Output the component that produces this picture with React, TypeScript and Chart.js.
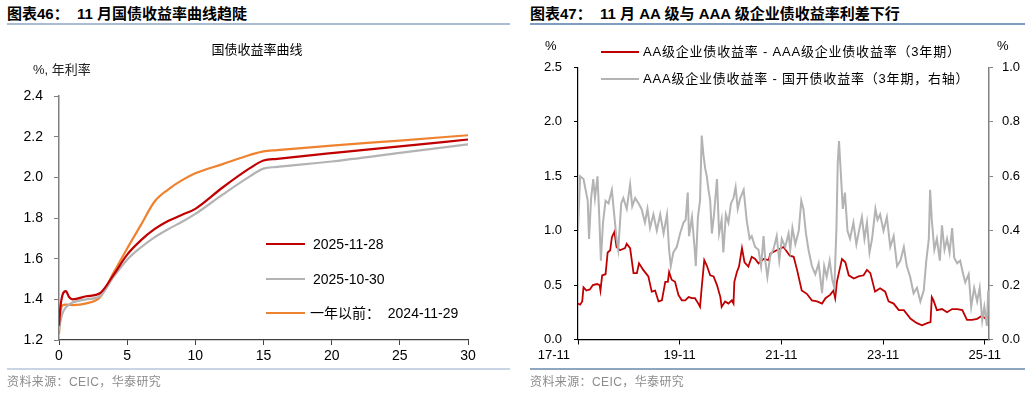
import React, { useEffect, useRef } from "react";
import { Chart, registerables } from "chart.js";

Chart.register(...registerables);

const FONT = '"Liberation Sans", "Noto Sans CJK SC", sans-serif';

// ---------- Left chart: 国债收益率曲线 ----------
const maturities = [0, 0.1, 0.25, 0.5, 0.75, 1, 2, 3, 4, 5, 6, 7, 8, 9, 10, 12, 14, 15, 16, 20, 25, 30];
const curve20251128 = [1.27, 1.36, 1.42, 1.44, 1.41, 1.4, 1.415, 1.43, 1.52, 1.62, 1.69, 1.745, 1.785, 1.815, 1.845, 1.95, 2.045, 2.083, 2.091, 2.119, 2.152, 2.186];
const curve20251030 = [1.25, 1.29, 1.33, 1.36, 1.375, 1.385, 1.4, 1.415, 1.51, 1.595, 1.655, 1.705, 1.745, 1.78, 1.82, 1.915, 2.005, 2.043, 2.051, 2.078, 2.12, 2.162];
const curve20241129 = [1.23, 1.33, 1.37, 1.374, 1.373, 1.372, 1.38, 1.41, 1.53, 1.65, 1.765, 1.88, 1.94, 1.985, 2.02, 2.065, 2.11, 2.128, 2.134, 2.156, 2.181, 2.207];
const leftLegend = ["2025-11-28", "2025-10-30", "一年以前：  2024-11-29"];

// ---------- Right chart: credit spreads (months since 2017-11) ----------
const aaMonths = [0, 0.5, 1, 1.3, 2, 2.8, 3.5, 4.5, 5.1, 5.3, 5.7, 6.5, 7, 7.6, 8, 8.6, 9.1, 9.9, 11.1, 11.5, 12.3, 13.1, 13.9, 14.4, 15.4, 16.6, 17.4, 18.2, 19, 19.8, 20.6, 21.2, 21.5, 22.1, 22.9, 23.7, 24.5, 25.3, 26.1, 26.9, 27.6, 28.4, 28.8, 29.2, 29.8, 30.4, 31.2, 32, 32.8, 33.6, 33.9, 34.7, 35.5, 36.3, 36.7, 36.9, 37.5, 38, 38.7, 39.3, 40.2, 41, 41.8, 42.6, 43.8, 45, 45.4, 46.9, 48.5, 50, 50.9, 51.7, 52.8, 54, 55.2, 56.4, 57.6, 58.4, 59.5, 60.3, 60.7, 61.1, 61.9, 62.3, 63.1, 63.9, 65.1, 66.2, 67.4, 68.2, 69, 70.1, 71.3, 72.5, 73.3, 74.5, 75.7, 76.9, 78.5, 80, 81.2, 82.4, 83.2, 83.5, 83.9, 84.7, 85.9, 87.1, 88.3, 89.5, 90.7, 91.8, 93, 94.2, 95.4, 96.2, 96.8];
const aaSpread = [0.33, 0.32, 0.35, 0.48, 0.45, 0.46, 0.5, 0.51, 0.5, 0.45, 0.59, 0.6, 0.8, 0.82, 0.94, 0.99, 0.85, 0.82, 0.84, 0.88, 0.84, 0.61, 0.61, 0.7, 0.64, 0.58, 0.44, 0.45, 0.35, 0.36, 0.53, 0.53, 0.62, 0.55, 0.53, 0.41, 0.36, 0.36, 0.39, 0.38, 0.38, 0.33, 0.3, 0.48, 0.73, 0.68, 0.59, 0.58, 0.5, 0.39, 0.3, 0.35, 0.33, 0.36, 0.33, 0.53, 0.62, 0.67, 0.84, 0.71, 0.67, 0.76, 0.74, 0.7, 0.74, 0.73, 0.79, 0.82, 0.85, 0.77, 0.76, 0.64, 0.45, 0.42, 0.36, 0.35, 0.33, 0.38, 0.41, 0.45, 0.38, 0.53, 0.67, 0.74, 0.71, 0.59, 0.56, 0.58, 0.59, 0.64, 0.61, 0.44, 0.47, 0.44, 0.35, 0.33, 0.27, 0.27, 0.19, 0.15, 0.13, 0.15, 0.16, 0.39, 0.36, 0.27, 0.28, 0.25, 0.28, 0.28, 0.27, 0.18, 0.18, 0.19, 0.22, 0.19, 0.21];

const aaaMonths = [0, 0.5, 1.3, 1.8, 2.3, 2.6, 3.1, 3.6, 4, 4.6, 5, 5.4, 5.9, 6.5, 7.2, 8, 8.6, 9.1, 9.5, 10.2, 10.7, 11.5, 12.3, 12.8, 13.5, 14.3, 15, 15.8, 16.4, 17, 17.8, 18.6, 19.4, 20.2, 21, 21.5, 21.9, 22.5, 23.3, 24.1, 24.9, 25.4, 25.9, 26.2, 26.9, 27.5, 27.8, 28.3, 28.8, 29.2, 29.6, 30, 30.4, 30.8, 31.2, 31.6, 32.1, 32.8, 33.3, 33.9, 34.3, 34.9, 35.5, 36.1, 36.7, 37.2, 37.7, 38.3, 39.1, 39.8, 40.5, 41, 41.8, 42.6, 43.2, 43.8, 44.2, 44.7, 45.4, 46.1, 46.9, 47.5, 48.1, 48.9, 49.7, 50.1, 50.6, 51.3, 52.1, 52.7, 53.2, 53.8, 54.4, 55.2, 56, 56.8, 57.6, 58.1, 58.7, 59.4, 60, 60.5, 61, 61.3, 61.6, 62, 62.5, 63, 63.6, 64.2, 65, 65.7, 66.2, 67, 67.6, 68.2, 68.8, 69.4, 70.2, 70.7, 71.3, 72.1, 72.9, 73.7, 74.5, 75.3, 76.1, 76.9, 77.6, 78.4, 79.2, 80, 80.8, 81.6, 82.2, 82.8, 83.1, 83.5, 84.1, 84.7, 85.4, 85.9, 86.5, 87.1, 87.7, 88.3, 88.8, 89.5, 90.2, 90.9, 91.4, 92.2, 92.8, 93.5, 94.2, 94.8, 95.4, 95.9, 96.5, 96.8];
const aaaSpread = [0.4, 0.6, 0.59, 0.55, 0.51, 0.37, 0.52, 0.59, 0.52, 0.6, 0.46, 0.29, 0.43, 0.51, 0.5, 0.55, 0.45, 0.37, 0.33, 0.5, 0.52, 0.48, 0.57, 0.49, 0.52, 0.5, 0.48, 0.43, 0.48, 0.41, 0.46, 0.4, 0.46, 0.39, 0.46, 0.33, 0.27, 0.32, 0.34, 0.39, 0.43, 0.44, 0.54, 0.38, 0.45, 0.34, 0.27, 0.45, 0.51, 0.75, 0.68, 0.63, 0.6, 0.55, 0.51, 0.39, 0.46, 0.59, 0.39, 0.44, 0.32, 0.46, 0.43, 0.5, 0.52, 0.56, 0.48, 0.52, 0.55, 0.44, 0.37, 0.38, 0.34, 0.33, 0.27, 0.38, 0.29, 0.23, 0.31, 0.33, 0.38, 0.29, 0.37, 0.34, 0.39, 0.33, 0.41, 0.35, 0.4, 0.51, 0.48, 0.39, 0.33, 0.27, 0.24, 0.28, 0.17, 0.27, 0.23, 0.29, 0.22, 0.19, 0.41, 0.65, 0.73, 0.62, 0.48, 0.54, 0.4, 0.37, 0.43, 0.35, 0.39, 0.45, 0.37, 0.43, 0.32, 0.37, 0.48, 0.44, 0.46, 0.4, 0.45, 0.34, 0.38, 0.27, 0.29, 0.34, 0.27, 0.23, 0.17, 0.19, 0.14, 0.18, 0.29, 0.37, 0.55, 0.44, 0.33, 0.37, 0.29, 0.42, 0.33, 0.37, 0.32, 0.41, 0.3, 0.28, 0.29, 0.24, 0.21, 0.24, 0.12, 0.19, 0.14, 0.19, 0.07, 0.12, 0.05, 0.18];
const xTickMonths = [0, 24, 48, 72, 96];
const xTickLabels = ["17-11", "19-11", "21-11", "23-11", "25-11"];
const rightLegend = ["AA级企业债收益率 - AAA级企业债收益率（3年期）", "AAA级企业债收益率 - 国开债收益率（3年期，右轴）"];

const RED = "#C00000";
const GRAY = "#B3B3B3";
const ORANGE = "#EE822F";

function pts(xs: number[], ys: number[]) {
  return xs.map((x, i) => ({ x, y: ys[i] }));
}

// Draws the date labels of the right chart's x axis; the first one sits left of its tick.
const dateLabelsPlugin = {
  id: "dateLabels",
  afterDraw(chart: any) {
    const s = chart.scales.x;
    const ctx = chart.ctx;
    ctx.save();
    ctx.font = `13px ${FONT}`;
    ctx.fillStyle = "#000";
    ctx.textBaseline = "middle";
    xTickMonths.forEach((m, i) => {
      const px = s.getPixelForValue(m);
      if (i === 0) {
        ctx.textAlign = "right";
        ctx.fillText(xTickLabels[i], px - 8, s.top + 16);
      } else {
        ctx.textAlign = "center";
        ctx.fillText(xTickLabels[i], px, s.top + 16);
      }
    });
    ctx.restore();
  },
};

function LeftChart() {
  const ref = useRef<HTMLCanvasElement | null>(null);
  useEffect(() => {
    if (!ref.current) return;
    const chart = new Chart(ref.current, {
      type: "line",
      data: {
        datasets: [
          { label: leftLegend[0], data: pts(maturities, curve20251128), borderColor: RED, borderWidth: 2.2, pointRadius: 0, cubicInterpolationMode: "monotone" },
          { label: leftLegend[1], data: pts(maturities, curve20251030), borderColor: GRAY, borderWidth: 2.2, pointRadius: 0, cubicInterpolationMode: "monotone" },
          { label: leftLegend[2], data: pts(maturities, curve20241129), borderColor: ORANGE, borderWidth: 2.2, pointRadius: 0, cubicInterpolationMode: "monotone" },
        ],
      },
      options: {
        animation: false,
        responsive: false,
        devicePixelRatio: 1,
        layout: { padding: { top: 96, left: 0, right: 47, bottom: 0 } },
        plugins: { legend: { display: false }, tooltip: { enabled: false } },
        scales: {
          x: {
            type: "linear",
            min: 0,
            max: 30,
            afterFit: (s: any) => { s.height = 53; },
            ticks: { stepSize: 5, font: { size: 14, family: FONT }, color: "#000", padding: 3 },
            grid: { drawOnChartArea: false, tickLength: 5, color: "#404040" },
            border: { color: "#404040", width: 1.2 },
          },
          y: {
            min: 1.2,
            max: 2.4,
            afterFit: (s: any) => { s.width = 59; },
            ticks: { stepSize: 0.2, font: { size: 14, family: FONT }, color: "#000", padding: 11, callback: (v: any) => Number(v).toFixed(1) },
            grid: { drawOnChartArea: false, tickLength: 5, color: "#808080" },
            border: { color: "#808080", width: 1.5 },
          },
        },
      } as any,
    });
    return () => chart.destroy();
  }, []);
  return <canvas ref={ref} width={515} height={393} style={{ position: "absolute", left: 0, top: 0 }} />;
}

function RightChart() {
  const ref = useRef<HTMLCanvasElement | null>(null);
  useEffect(() => {
    if (!ref.current) return;
    const chart = new Chart(ref.current, {
      type: "line",
      data: {
        datasets: [
          { label: rightLegend[1], data: pts(aaaMonths, aaaSpread), yAxisID: "y1", borderColor: GRAY, borderWidth: 2, pointRadius: 0, tension: 0 },
          { label: rightLegend[0], data: pts(aaMonths, aaSpread), yAxisID: "y", borderColor: RED, borderWidth: 1.8, pointRadius: 0, tension: 0 },
        ],
      },
      plugins: [dateLabelsPlugin],
      options: {
        animation: false,
        responsive: false,
        devicePixelRatio: 1,
        layout: { padding: { top: 67.5, left: 0, right: 0, bottom: 0 } },
        plugins: { legend: { display: false }, tooltip: { enabled: false } },
        scales: {
          x: {
            type: "linear",
            min: 0,
            max: 97,
            afterFit: (s: any) => { s.height = 53.5; },
            afterBuildTicks: (s: any) => { s.ticks = xTickMonths.map((v) => ({ value: v })); },
            ticks: { display: false },
            grid: { drawOnChartArea: false, tickLength: 5, color: "#000" },
            border: { color: "#000", width: 1.2 },
          },
          y: {
            position: "left",
            min: 0,
            max: 2.5,
            afterFit: (s: any) => { s.width = 63; },
            ticks: { stepSize: 0.5, font: { size: 13, family: FONT }, color: "#000", padding: 12, callback: (v: any) => Number(v).toFixed(1) },
            grid: { drawOnChartArea: false, tickLength: 4, color: "#000" },
            border: { color: "#000", width: 1.2 },
          },
          y1: {
            position: "right",
            min: 0,
            max: 1,
            afterFit: (s: any) => { s.width = 41; },
            ticks: { stepSize: 0.2, font: { size: 13, family: FONT }, color: "#000", padding: 9, callback: (v: any) => Number(v).toFixed(1) },
            grid: { drawOnChartArea: false, tickLength: 4, color: "#808080" },
            border: { color: "#808080", width: 1.5 },
          },
        },
      } as any,
    });
    return () => chart.destroy();
  }, []);
  return <canvas ref={ref} width={515} height={393} style={{ position: "absolute", left: 515, top: 0 }} />;
}

const abs = (s: React.CSSProperties): React.CSSProperties => ({ position: "absolute", whiteSpace: "pre", ...s });

export default function App() {
  return (
    <div style={{ position: "fixed", left: 0, top: 0, width: 1030, height: 393, background: "#fff", fontFamily: FONT, color: "#000", overflow: "hidden" }}>
      {/* Titles */}
      <div style={abs({ left: 7, top: 5, fontSize: 15, lineHeight: "17px", fontWeight: "bold" })}>图表46：  11 月国债收益率曲线趋陡</div>
      <div style={abs({ left: 7, top: 23, width: 503, height: 2, background: "#A9BCD3" })} />
      <div style={abs({ left: 530, top: 5, fontSize: 15, lineHeight: "17px", fontWeight: "bold" })}>图表47：  11 月 AA 级与 AAA 级企业债收益率利差下行</div>
      <div style={abs({ left: 530, top: 23, width: 495, height: 2, background: "#7F9DC0" })} />

      <LeftChart />
      <RightChart />

      {/* Left chart texts */}
      <div style={abs({ left: 207, top: 43, width: 100, textAlign: "center", fontSize: 13, lineHeight: "14px" })}>国债收益率曲线</div>
      <div style={abs({ left: 33, top: 63, fontSize: 13, lineHeight: "14px", color: "#222" })}>%, 年利率</div>
      {[RED, GRAY, ORANGE].map((c, i) => (
        <React.Fragment key={i}>
          <div style={abs({ left: 266, top: [243, 278, 312][i], width: 39, height: 2, background: c })} />
          <div style={abs({ left: i === 2 ? 310 : 313, top: [237, 272, 306][i], fontSize: 14, lineHeight: "15px" })}>{leftLegend[i]}</div>
        </React.Fragment>
      ))}

      {/* Right chart texts */}
      <div style={abs({ left: 545, top: 39, fontSize: 13, lineHeight: "14px" })}>%</div>
      <div style={abs({ left: 997, top: 39, fontSize: 13, lineHeight: "14px" })}>%</div>
      {[RED, GRAY].map((c, i) => (
        <React.Fragment key={i}>
          <div style={abs({ left: 601, top: [51, 78][i], width: 38, height: 2, background: c })} />
          <div style={abs({ left: 643, top: [45, 72][i], fontSize: 13, lineHeight: "14px", letterSpacing: "0.8px" })}>{rightLegend[i]}</div>
        </React.Fragment>
      ))}

      {/* Footers */}
      <div style={abs({ left: 7, top: 368, width: 503, height: 2, background: "#C8D5E4" })} />
      <div style={abs({ left: 530, top: 368, width: 495, height: 2, background: "#8FA6C0" })} />
      <div style={abs({ left: 7, top: 375, fontSize: 12, lineHeight: "14px", color: "#8C8C8C", letterSpacing: "0.4px" })}>资料来源：CEIC，华泰研究</div>
      <div style={abs({ left: 530, top: 375, fontSize: 12, lineHeight: "14px", color: "#8C8C8C", letterSpacing: "0.4px" })}>资料来源：CEIC，华泰研究</div>
    </div>
  );
}
